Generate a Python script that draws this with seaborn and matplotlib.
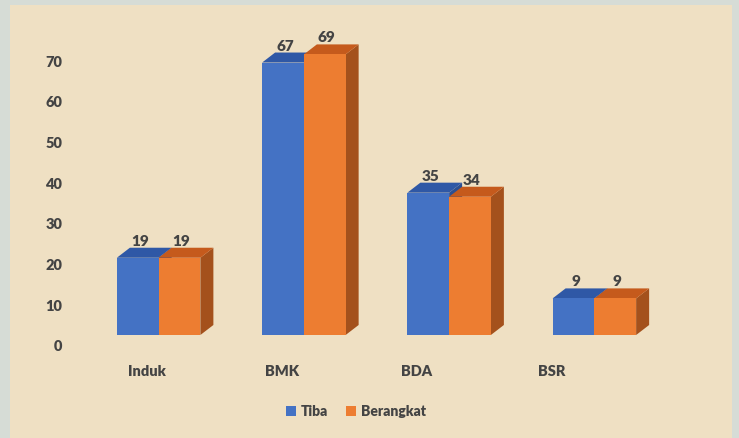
import matplotlib
matplotlib.use("Agg")
import matplotlib.pyplot as plt
import matplotlib.transforms as mtransforms
from matplotlib.patches import Polygon, Rectangle
import seaborn as sns
import pandas as pd

categories = ["Induk", "BMK", "BDA", "BSR"]
tiba = [19, 67, 35, 9]
berangkat = [19, 69, 34, 9]
series_names = ["Tiba", "Berangkat"]
yticks = [0, 10, 20, 30, 40, 50, 60, 70]

front_colors = ["#4472C4", "#ED7D31"]
top_colors = ["#2F58A6", "#C55A1C"]
side_colors = ["#2C4F92", "#A4511C"]
text_color = "#444444"

df = pd.DataFrame({
    "cat": categories * 2,
    "val": tiba + berangkat,
    "series": [series_names[0]] * len(categories) + [series_names[1]] * len(categories),
})

sns.set_theme(style="white")
plt.rcParams["font.family"] = ["Lato", "DejaVu Sans"]

W, H = 739, 439
fig = plt.figure(figsize=(W / 100, H / 100), dpi=100)
fig.patch.set_facecolor("#D6DCD6")
fig.patches.append(Rectangle((10 / W, 0), 722 / W, 433 / H, transform=fig.transFigure,
                             facecolor="#EFE0C3", edgecolor="none", zorder=-5))

ax = fig.add_axes([86 / W, (H - 336) / H, 581 / W, 305 / H])
ax.set_facecolor("none")
ax.set_zorder(2)

sns.barplot(data=df, x="cat", y="val", hue="series", palette=front_colors,
            width=0.575, saturation=1, ax=ax, legend=False, zorder=3,
            linewidth=0, edgecolor="none")
ax.set_xlim(-0.5, len(categories) - 0.5)
ax.set_ylim(0, 75)

# 3D depth faces derived from each bar's geometry
dx_px, dy_px = 13, 10
ax_w_px = ax.get_position().width * W
ax_h_px = ax.get_position().height * H
dx = dx_px * (ax.get_xlim()[1] - ax.get_xlim()[0]) / ax_w_px
dy = dy_px * (ax.get_ylim()[1] - ax.get_ylim()[0]) / ax_h_px

for ci, cont in enumerate(ax.containers):
    for p in cont.patches:
        x0 = p.get_x()
        x1 = x0 + p.get_width()
        h = p.get_height()
        top = Polygon([(x0, h), (x1, h), (x1 + dx, h + dy), (x0 + dx, h + dy)],
                      closed=True, facecolor=top_colors[ci], edgecolor="none",
                      zorder=1 + ci * 0.1)
        side = Polygon([(x1, 0), (x1 + dx, dy), (x1 + dx, h + dy), (x1, h)],
                       closed=True, facecolor=side_colors[ci], edgecolor="none",
                       zorder=1 + ci * 0.1)
        ax.add_patch(side)
        ax.add_patch(top)
        ax.annotate(f"{int(h)}", xy=((x0 + x1) / 2, h), xytext=(2, 11),
                    textcoords="offset pixels", ha="center", va="bottom",
                    fontsize=11, fontweight="heavy", color=text_color, zorder=5,
                    annotation_clip=False)

for s in ax.spines.values():
    s.set_visible(False)
ax.set_xlabel("")
ax.set_ylabel("")
ax.set_yticks(yticks)
ax.set_yticklabels([str(v) for v in yticks])
ax.tick_params(axis="y", length=0, pad=17, labelsize=10.5, labelcolor=text_color)
ax.tick_params(axis="x", length=0, pad=21, labelsize=10.5, labelcolor=text_color)
for lab in ax.get_yticklabels():
    lab.set_fontweight("heavy")
    lab.set_transform(lab.get_transform() +
                      mtransforms.ScaledTranslation(0, -10 / 100, fig.dpi_scale_trans))
for i, lab in enumerate(ax.get_xticklabels()):
    lab.set_fontweight("heavy")
    lab.set_transform(lab.get_transform() +
                      mtransforms.ScaledTranslation(-(12 + 10.3 * i) / 100, 0, fig.dpi_scale_trans))

handles = [Rectangle((0, 0), 1, 1, facecolor=c, edgecolor="none") for c in front_colors]
leg = fig.legend(handles, series_names, loc="center", bbox_to_anchor=(356 / W, (H - 412) / H),
                 ncol=2, frameon=False, handlelength=0.7, handleheight=0.7,
                 handletextpad=0.35, columnspacing=1.3,
                 prop={"size": 10, "weight": "heavy"})
for t in leg.get_texts():
    t.set_color(text_color)

fig.savefig("out.png", dpi=100, facecolor=fig.get_facecolor())
